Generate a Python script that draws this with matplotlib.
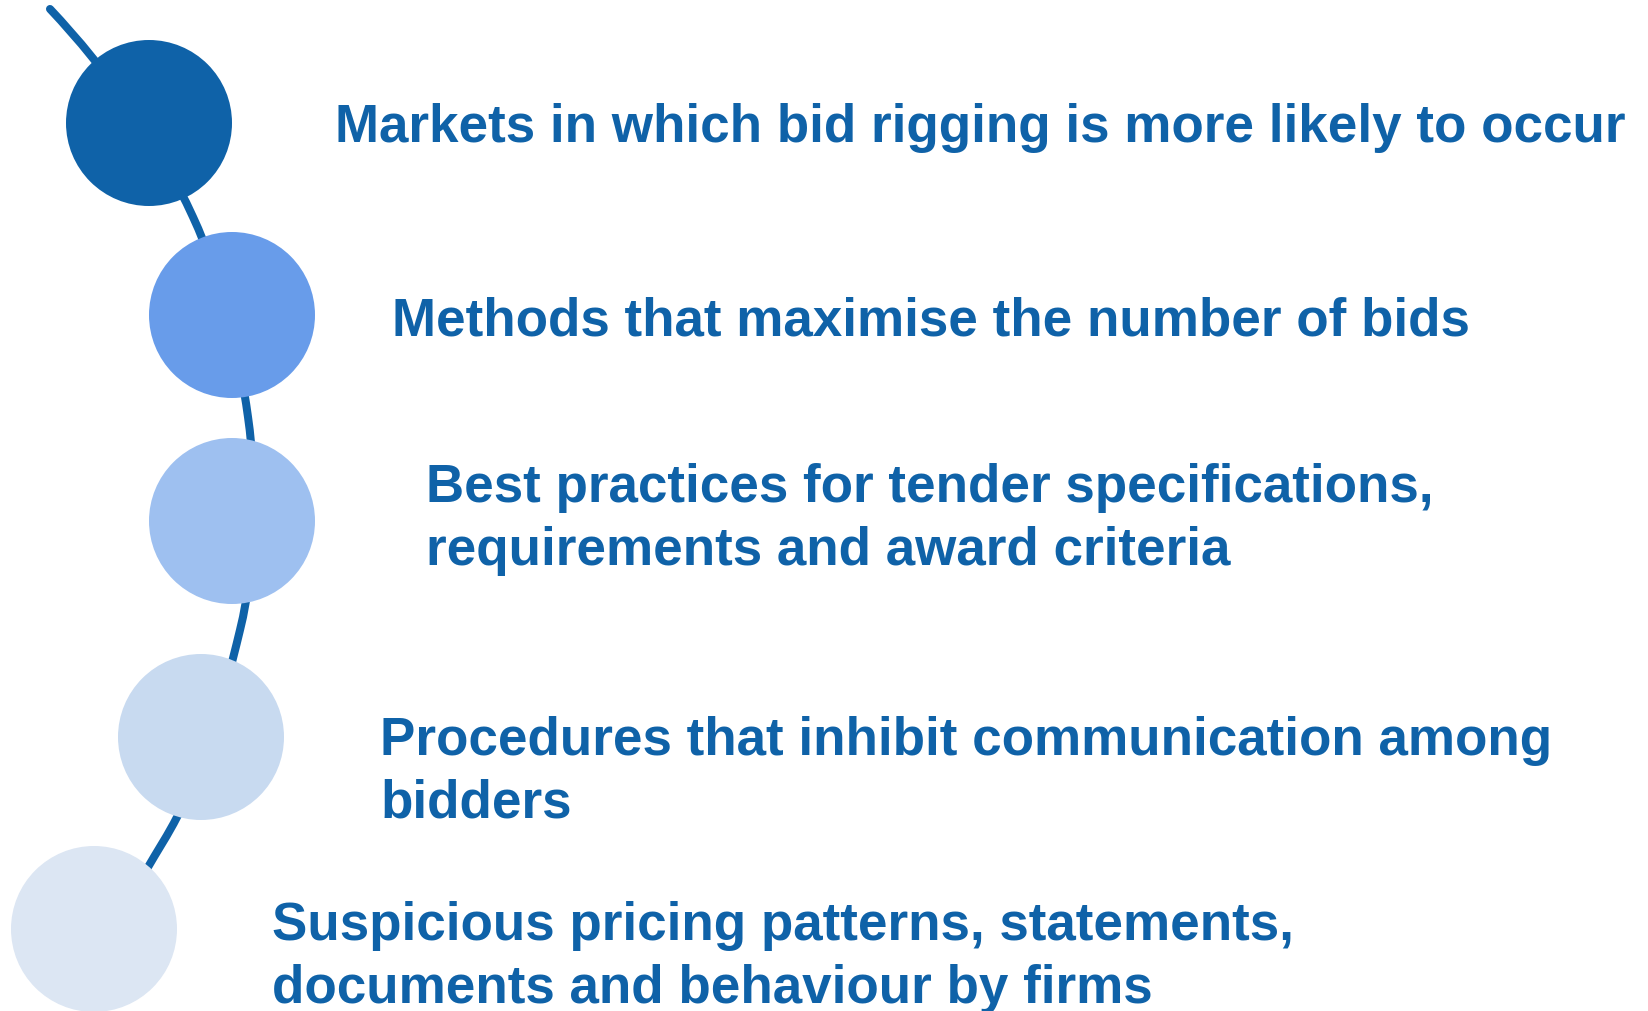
import numpy as np
import matplotlib.pyplot as plt
from matplotlib.patches import Circle, PathPatch
from matplotlib.path import Path

# steps of the diagram (top to bottom)
labels = [
    "Markets in which bid rigging is more likely to occur",
    "Methods that maximise the number of bids",
    "Best practices for tender specifications,\nrequirements and award criteria",
    "Procedures that inhibit communication among\nbidders",
    "Suspicious pricing patterns, statements,\ndocuments and behaviour by firms",
]
circle_colors = ["#0F62A8", "#689CEA", "#9EC0F0", "#C8DAF0", "#DCE6F3"]

# layout in pixel units (figure is 1649 x 1012)
circle_x = [149, 232, 232, 201, 94]
circle_y = [124, 316, 522, 738, 930]
radius = 83
text_x = [335, 392, 426, 380, 272]
text_base = [142, 335, 502, 755, 940]
line_step = 63

# connector curve: anchor points and their direction
curve_pts = [(50, 10), (193, 218), (248, 418), (240, 631), (163, 843), (90, 950)]
curve_dir = [(47, 50), (17, 37), (5, 36), (-15, 62), (-30, 49), (-1, 1)]

blue = "#0F62A8"

fig = plt.figure(figsize=(16.49, 10.12), dpi=100)
ax = fig.add_axes([0, 0, 1, 1])
ax.set_xlim(0, 1649)
ax.set_ylim(1012, 0)
ax.axis("off")

P = np.array(curve_pts, dtype=float)
D = np.array(curve_dir, dtype=float)
D = D / np.linalg.norm(D, axis=1)[:, None]
verts = [P[0]]
codes = [Path.MOVETO]
for i in range(len(P) - 1):
    L = np.linalg.norm(P[i + 1] - P[i]) / 3
    verts += [P[i] + D[i] * L, P[i + 1] - D[i + 1] * L, P[i + 1]]
    codes += [Path.CURVE4] * 3
ax.add_patch(PathPatch(Path(verts, codes), fill=False, edgecolor=blue,
                       linewidth=5.8, capstyle="round", zorder=1))

for x, y, c in zip(circle_x, circle_y, circle_colors):
    ax.add_patch(Circle((x, y), radius, facecolor=c, edgecolor="none", zorder=2))

for lab, x, yb in zip(labels, text_x, text_base):
    for k, line in enumerate(lab.split("\n")):
        ax.text(x, yb + k * line_step, line, fontsize=38.2, fontweight="bold",
                family="Liberation Sans", color=blue, ha="left", va="baseline")

fig.savefig("out.png", dpi=100)
